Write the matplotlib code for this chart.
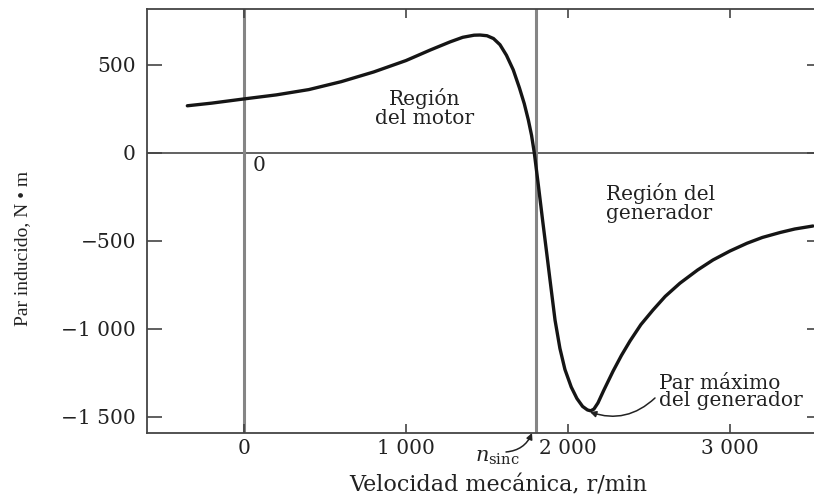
import numpy as np
import matplotlib
matplotlib.use('Agg')
import matplotlib.pyplot as plt

plt.rcParams['font.family'] = 'DejaVu Serif'
plt.rcParams['mathtext.fontset'] = 'dejavuserif'

# curva par-velocidad (r/min, N*m)
velocidad = [-350, -200, 0, 200, 400, 600, 800, 1000, 1150, 1272, 1350, 1420,
             1457, 1500, 1540, 1580, 1620, 1662, 1700, 1730, 1755, 1775, 1792,
             1818, 1843, 1870, 1889, 1920, 1950, 1981, 2020, 2055, 2090, 2120,
             2140, 2160, 2185, 2220, 2278, 2330, 2383, 2450, 2525, 2600, 2691,
             2800, 2895, 3000, 3105, 3200, 3309, 3400, 3512]
par = [268, 283, 307, 330, 360, 405, 460, 525, 585, 631, 657, 669,
       670, 666, 650, 615, 555, 472, 370, 280, 188, 100, 0,
       -191, -381, -580, -722, -950, -1110, -1230, -1330, -1395, -1440, -1460,
       -1465, -1455, -1420, -1350, -1240, -1150, -1068, -975, -892, -815, -740,
       -665, -608, -557, -513, -480, -452, -432, -415]

n_sinc = 1800
xticks = [0, 1000, 2000, 3000]
xtick_labels = ['0', '1 000', '2 000', '3 000']
yticks = [-1500, -1000, -500, 0, 500]
ytick_labels = ['\u22121 500', '\u22121 000', '\u2212500', '0', '500']

W, H = 814, 498
fig = plt.figure(figsize=(W / 100, H / 100), dpi=100)
ax = fig.add_axes([147 / W, 65 / H, (822 - 147) / W, (433 - 9.5) / H])


def px(x, y):
    # pixel de la imagen -> coordenadas de datos
    return (x - 244) / 0.162, (153 - y) / 0.176


ax.axhline(0, color='#555555', lw=1.3, zorder=1)
ax.axvline(0, color='#858585', lw=2.2, zorder=1)
ax.axvline(n_sinc, color='#858585', lw=2.2, zorder=1)
ax.plot(velocidad, par, color='#151515', lw=2.4, solid_capstyle='round',
        solid_joinstyle='round', zorder=3)

ax.set_xlim(-599, 3568)
ax.set_ylim(-1591, 815)
ax.set_xticks(xticks)
ax.set_xticklabels(xtick_labels)
ax.set_yticks(yticks)
ax.set_yticklabels(ytick_labels)

for s in ax.spines.values():
    s.set_color('#444444')
    s.set_linewidth(1.3)

ax.tick_params(axis='x', direction='in', length=6.5, width=1.2, color='#444444',
               top=True, labelsize=14.5, pad=4, labelcolor='#222222')
ax.tick_params(axis='y', direction='in', length=11, width=1.2, color='#444444',
               right=True, labelsize=14.5, pad=8, labelcolor='#222222')

tc = '#222222'
ax.text(*px(259, 166), '0', fontsize=14.5, ha='center', va='center', color=tc)
ax.text(*px(425, 108), 'Región\ndel motor', fontsize=14.5, ha='center',
        va='center', linespacing=0.95, color=tc)
ax.text(*px(606, 203), 'Región del\ngenerador', fontsize=14.5, ha='left',
        va='center', linespacing=1.0, color=tc)
ax.text(*px(659, 392), 'Par máximo\ndel generador', fontsize=14.5, ha='left',
        va='center', linespacing=0.9, color=tc)
ax.annotate('', xy=px(590, 412), xytext=px(655, 398),
            arrowprops=dict(arrowstyle='-|>', color=tc, lw=1.1,
                            connectionstyle='arc3,rad=-0.3',
                            shrinkA=0, shrinkB=0, mutation_scale=9),
            annotation_clip=False)
ax.text(*px(497, 458), '$n_{\\mathrm{sinc}}$', fontsize=15, ha='center',
        va='center', color=tc)
ax.annotate('', xy=px(532, 433), xytext=px(506, 452),
            arrowprops=dict(arrowstyle='-|>', color=tc, lw=1.1,
                            connectionstyle='arc3,rad=0.3',
                            shrinkA=0, shrinkB=0, mutation_scale=9),
            annotation_clip=False)

fig.text(23 / W, 1 - 248 / H, 'Par inducido, N \u2022 m', rotation=90,
         ha='center', va='center', fontsize=14, family='Liberation Serif',
         color=tc)
fig.text(498 / W, 1 - 485 / H, 'Velocidad mecánica, r/min', ha='center',
         va='center', fontsize=16, color=tc)

fig.savefig('out.png', dpi=100)
